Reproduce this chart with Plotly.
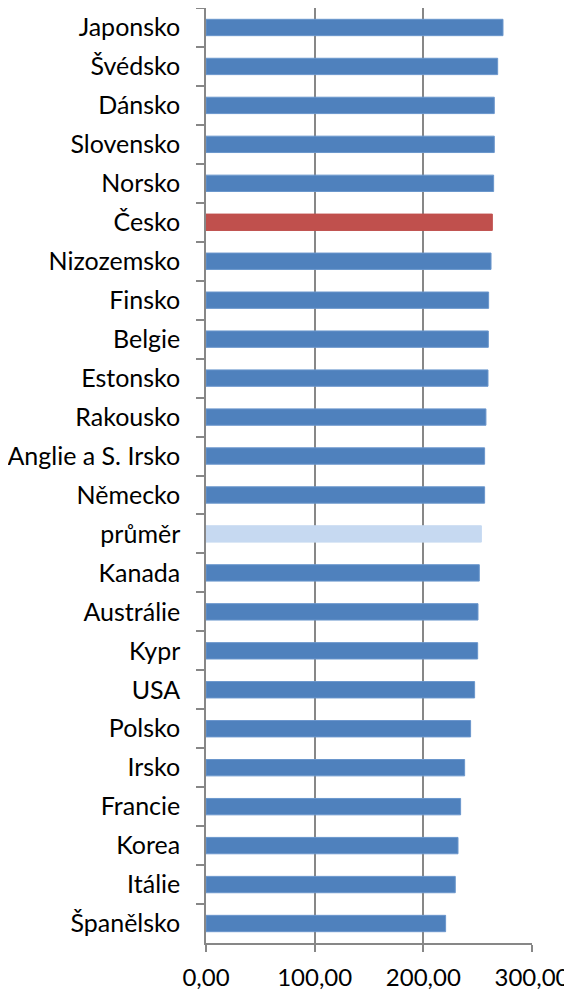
import plotly.graph_objects as go

# ── data ─────────────────────────────────────────────────────────────

countries = [
    "Japonsko", "Švédsko", "Dánsko", "Slovensko", "Norsko", "Česko",
    "Nizozemsko", "Finsko", "Belgie", "Estonsko", "Rakousko",
    "Anglie a S. Irsko", "Německo", "průměr", "Kanada", "Austrálie",
    "Kypr", "USA", "Polsko", "Irsko", "Francie", "Korea", "Itálie",
    "Španělsko",
]
scores = [
    273.3, 268.4, 265.3, 265.3, 264.7, 263.5,
    262.3, 260.1, 259.8, 259.5, 257.6,
    256.4, 256.4, 253.4, 251.5, 250.3,
    250.0, 247.2, 243.5, 238.0, 234.3, 231.9, 229.4,
    220.5,
]
x_ticks = [0, 100, 200, 300]

# ── style ────────────────────────────────────────────────────────────

BLUE = "#4F81BD"
RED = "#C0504D"
LIGHT = "#C6D9F1"
GREY = "#878787"

colors = [RED if c == "Česko" else LIGHT if c == "průměr" else BLUE for c in countries]
edges = ["#C0504D" if c == "Česko" else "#C6D9F1" if c == "průměr" else "#6A96CC" for c in countries]

# ── chart ────────────────────────────────────────────────────────────

# the page body has an 8px default margin, so the figure is sized to fit
fig = go.Figure()
fig.add_trace(
    go.Bar(
        x=scores,
        y=countries,
        orientation="h",
        marker={"color": colors, "line": {"color": edges, "width": 1}},
        width=0.42,
        hoverinfo="x+y",
    )
)
fig.update_layout(
    width=564,
    height=982,
    margin={"l": 198, "r": 40, "t": 0, "b": 47},
    paper_bgcolor="white",
    plot_bgcolor="white",
    showlegend=False,
    separators=", ",
    font={"family": "Lato, Open Sans, sans-serif", "size": 25, "color": "#000000"},
    xaxis={
        "range": [0, 300],
        "tickvals": x_ticks,
        "tickformat": ".2f",
        "tickfont": {"size": 24},
        "automargin": False,
        "showgrid": True,
        "gridcolor": GREY,
        "gridwidth": 1.5,
        "zeroline": False,
        "showline": True,
        "linecolor": GREY,
        "linewidth": 1.5,
        "ticks": "outside",
        "ticklen": 7,
        "tickcolor": GREY,
        "tickwidth": 1.5,
        "ticklabelstandoff": 5,
    },
    yaxis={
        "autorange": "reversed",
        "automargin": False,
        "showgrid": False,
        "zeroline": False,
        "showline": True,
        "linecolor": GREY,
        "linewidth": 1.5,
        "ticks": "outside",
        "tickson": "boundaries",
        "ticklen": 8,
        "tickcolor": GREY,
        "tickwidth": 1.5,
        "ticklabelstandoff": 19,
    },
)
fig.write_html("out.html")
